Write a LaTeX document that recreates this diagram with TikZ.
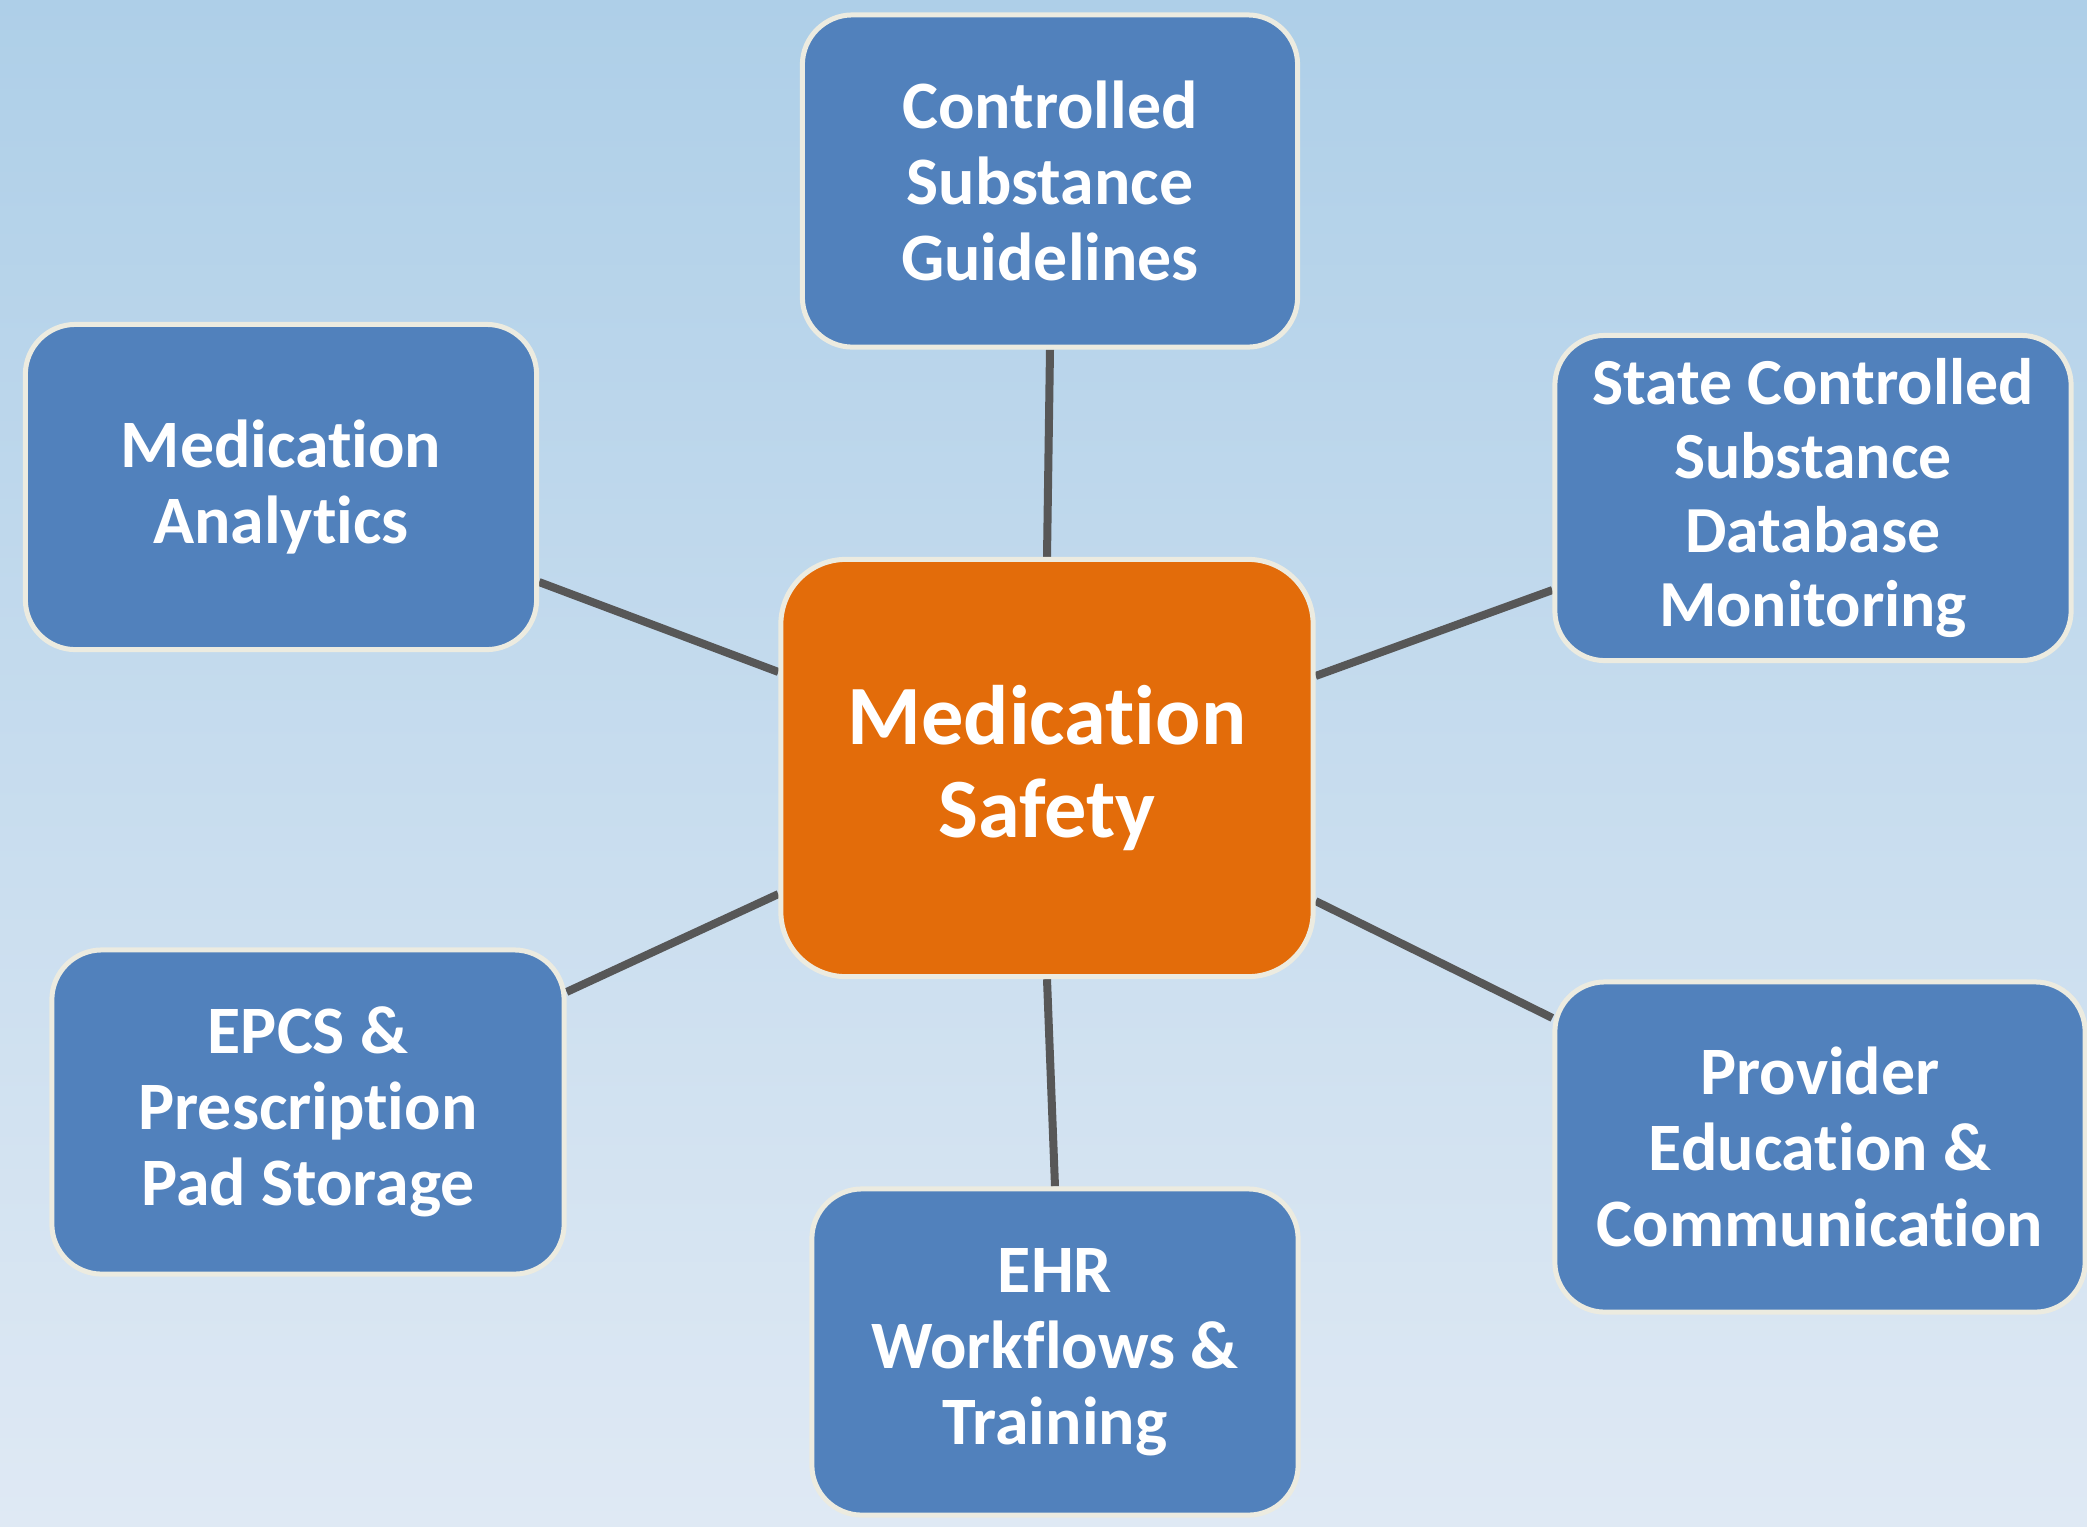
\documentclass[tikz,border=0pt]{standalone}
\usepackage{fontspec}
\setmainfont[RawFeature=-liga]{Carlito}
\usepackage{tikz}
\usetikzlibrary{backgrounds}

\definecolor{topicblue}{HTML}{5181BC}
\definecolor{huborange}{HTML}{E36C0A}
\definecolor{rimcream}{HTML}{ECEBE0}
\definecolor{linkgray}{HTML}{575757}
\definecolor{skytop}{HTML}{AECFE8}
\definecolor{skybottom}{HTML}{DFE9F4}

\begin{document}
\begin{tikzpicture}[
  x=0.01cm,
  y=-0.01cm,
  topic/.style={draw=rimcream, line width=0.05cm, fill=topicblue, rounded corners=0.5cm,
    text=white, align=center, inner sep=0pt,
    font=\fontsize{19.3}{21.6}\selectfont\bfseries},
  hub/.style={topic, fill=huborange, rounded corners=0.65cm,
    font=\fontsize{24}{26.5}\selectfont\bfseries},
  link/.style={draw=linkgray, line width=0.08cm}
]
\useasboundingbox (0,0) rectangle (2087,1526);

% centre
\node[hub, minimum width=5.32cm, minimum height=4.17cm] (safety) at (1047,768) {Medication\\Safety};

% surrounding topics
\node[topic, minimum width=4.95cm, minimum height=3.32cm] (guide) at (1050,181) {Controlled\\Substance\\Guidelines};
\node[topic, minimum width=5.11cm, minimum height=3.25cm] (analytics) at (281,487) {Medication\\Analytics};
\node[topic, minimum width=5.16cm, minimum height=3.25cm,
  font=\fontsize{18.7}{21}\selectfont\bfseries] (pdmp) at (1813,498) {State Controlled\\Substance\\Database\\Monitoring};
\node[topic, minimum width=5.12cm, minimum height=3.24cm] (epcs) at (308,1112) {EPCS \&\\Prescription\\Pad Storage};
\node[topic, minimum width=4.86cm, minimum height=3.26cm] (ehr) at (1055,1352) {EHR\\Workflows \&\\Training};
\node[topic, minimum width=5.3cm, minimum height=3.3cm] (provider) at (1820,1147) {Provider\\Education \&\\Communication};

% backdrop and spokes
\begin{scope}[on background layer]
\fill[top color=skytop, bottom color=skybottom] (0,0) rectangle (2087,1526);
\draw[link] (guide.south) -- (safety.north);
\draw[link] ([yshift=-0.95cm]analytics.east) -- ([yshift=0.96cm]safety.west);
\draw[link] ([yshift=0.92cm]safety.east) -- ([yshift=-0.92cm]pdmp.west);
\draw[link] ([yshift=1.20cm]epcs.east) -- ([yshift=-1.26cm]safety.west);
\draw[link] (safety.south) -- (ehr.north);
\draw[link] ([yshift=-1.33cm]safety.east) -- ([yshift=1.29cm]provider.west);
\end{scope}
\end{tikzpicture}
\end{document}
